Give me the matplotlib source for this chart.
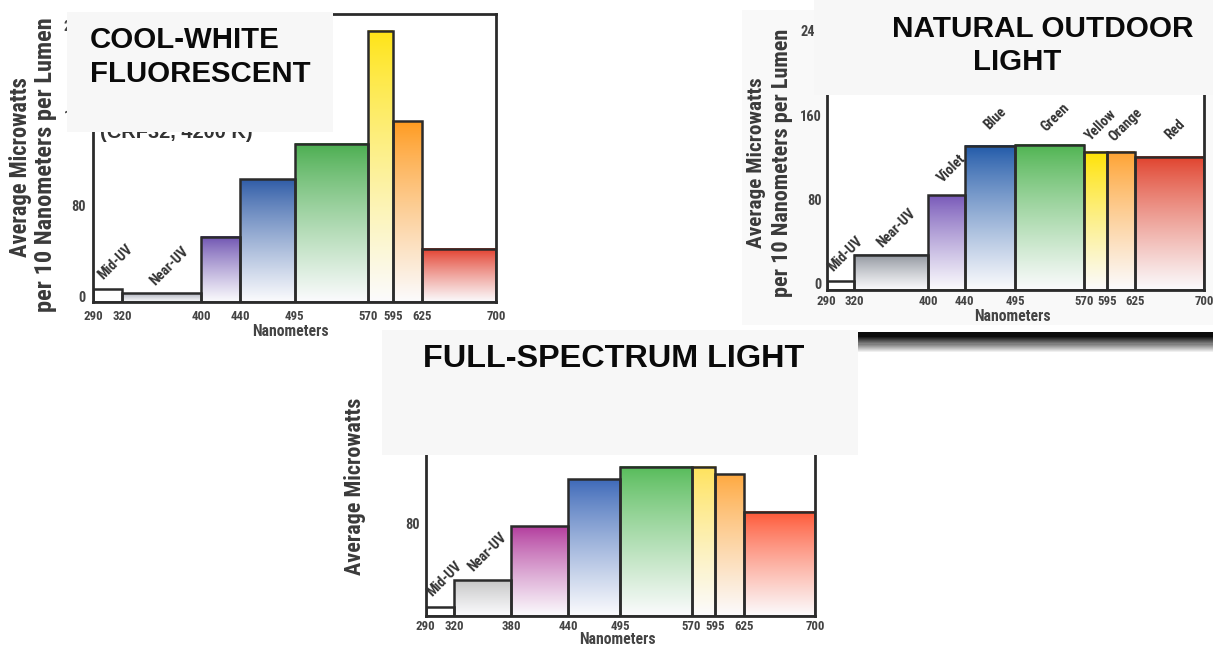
import numpy as np
import matplotlib
matplotlib.use("Agg")
import matplotlib.pyplot as plt
from matplotlib.patches import Rectangle
from matplotlib import font_manager as fm
from matplotlib.colors import to_rgb

W, H, DPI = 1213, 647, 100

# ---------------- data ----------------
bands = ["Mid-UV", "Near-UV", "Violet", "Blue", "Green", "Yellow", "Orange", "Red"]

edges_cw = [290, 320, 400, 440, 495, 570, 595, 625, 700]
cool_white = [6, 2.5, 52.5, 103.5, 135, 235, 155, 42]

edges_nat = [290, 320, 400, 440, 495, 570, 595, 625, 700]
natural = [2.8, 27.5, 84, 131, 132, 125, 125, 120.5]

edges_full = [290, 320, 380, 440, 495, 570, 595, 625, 700]
full_spectrum = [3.1, 27.7, 77.2, 120.9, 132.2, 132.2, 125.2, 90.7]

yticks_main = [0, 80, 160, 240]
yticks_full = [80, 160, 240]

colors_cw = ["#ffffff", "#a9acb8", "#6c50b0", "#2d5aa6", "#49ad4e", "#ffe414", "#ff9a1e", "#e23a28"]
colors_nat = ["#ffffff", "#8d929b", "#7656b8", "#1f58a8", "#4db34f", "#ffe200", "#ffa12e", "#e0402a"]
colors_full = ["#ffffff", "#c4c4c4", "#b23a9c", "#3c68b8", "#55bb58", "#ffe25a", "#ffa83e", "#ff5533"]

# ---------------- fonts ----------------
TTF = fm.fontManager.ttflist


def has_static_bold(name):
    return any(f.name == name and f.weight in (700, "bold") and "[" not in f.fname
               for f in TTF)


def pick(cands):
    for c in cands:
        if has_static_bold(c):
            return c
    return "DejaVu Sans"


NARROW = pick(["Liberation Sans Narrow", "Roboto Condensed", "Archivo Narrow",
               "PT Sans Narrow", "Fira Sans Condensed", "IBM Plex Sans Condensed",
               "Barlow Semi Condensed", "Saira SemiCondensed", "DejaVu Sans"])
BOLD = pick(["Liberation Sans", "Arimo", "DejaVu Sans"])
GRAY = "#3a3a3a"

fig = plt.figure(figsize=(W / DPI, H / DPI), dpi=DPI)
fig.patch.set_facecolor("white")
R = fig.canvas.get_renderer()


def fr(x0, y0, x1, y1):
    return [x0 / W, 1 - y1 / H, (x1 - x0) / W, (y1 - y0) / H]


def fx(x):
    return x / W


def fy(y):
    return 1 - y / H


def probe_size(s, target, family, weight="bold"):
    t = fig.text(0, 0, s, fontsize=10, family=family, fontweight=weight)
    w = t.get_window_extent(R).width
    t.remove()
    return 10 * target / w


def fit(t, target, vertical=False):
    bb = t.get_window_extent(R)
    cur = bb.height if vertical else bb.width
    t.set_fontsize(t.get_fontsize() * target / cur)
    return t


XT_FS = probe_size("290", 19.5, NARROW)
YT_FS = probe_size("80", 14.5, NARROW)
ROT_FS = probe_size("Near-UV", 48, NARROW)
NM_FS = probe_size("Nanometers", 76, NARROW)


def draw_chart(ax, edges, values, colors, ymin, ymax, yticks, n_labels,
               xpad, ypad, lab_off=(5, 27)):
    edges = np.asarray(edges, float)
    vals = np.asarray(values, float)
    left = edges[:-1]
    width = np.diff(edges)
    t = np.linspace(0, 1, 160)[:, None]
    bot = np.array(to_rgb("#fbfbfd"))
    for x0, w, v, c in zip(left, width, vals, colors):
        top = np.array(to_rgb(c))
        f = t ** 0.85
        grad = top * (1 - f) + bot * f
        if c == "#ffffff":
            grad = np.ones_like(grad)
        ax.imshow(grad[:, None, :], extent=[x0, x0 + w, ymin, v],
                  aspect="auto", interpolation="bilinear", zorder=1)
    ax.bar(left, vals - ymin, width=width, bottom=ymin, align="edge",
           fill=False, edgecolor="#2b2b2b", linewidth=1.8, zorder=2)
    ax.set_xlim(edges[0], edges[-1])
    ax.set_ylim(ymin, ymax)
    ax.set_xticks(edges)
    ax.set_xticklabels([f"{int(e)}" for e in edges])
    ax.set_yticks(yticks)
    ax.set_yticklabels([str(v) for v in yticks])
    ax.tick_params(axis="x", length=0, pad=xpad, labelsize=XT_FS, labelcolor="#444444")
    ax.tick_params(axis="y", length=0, pad=ypad, labelsize=YT_FS, labelcolor="#444444")
    for lab in ax.get_xticklabels() + ax.get_yticklabels():
        lab.set_fontfamily(NARROW)
        lab.set_fontweight("bold")
    for sp in ax.spines.values():
        sp.set_linewidth(2.0)
        sp.set_color("#2b2b2b")
    for i in range(n_labels):
        cx = left[i] + width[i] / 2
        ax.annotate(bands[i], xy=(cx, vals[i]), xytext=lab_off,
                    textcoords="offset pixels", rotation=45, ha="center",
                    va="center", fontsize=ROT_FS, fontweight="bold",
                    family=NARROW, color="#333333", zorder=3,
                    annotation_clip=False)


# ---------- chart 2 panel (natural outdoor light) ----------
fig.add_artist(Rectangle((fx(741.7), fy(325)), (1213 - 741.7) / W, (325 - 10) / H,
                         transform=fig.transFigure, facecolor="#f9f9f9",
                         edgecolor="none", zorder=-2))

# shadow strip under chart 2 panel
ax_sh = fig.add_axes(fr(800, 332, 1213, 353))
prof = np.concatenate([np.full(4, 0.05), np.linspace(0.05, 0.5, 8),
                       np.linspace(0.5, 1.0, 9)])
ax_sh.imshow(np.repeat(prof[:, None], 2, axis=1)[:, :, None].repeat(3, axis=2),
             aspect="auto", interpolation="bilinear", vmin=0, vmax=1)
ax_sh.axis("off")

# ---------- axes ----------
ax1 = fig.add_axes(fr(93, 14, 496, 302))
draw_chart(ax1, edges_cw, cool_white, colors_cw, -5.3, 250, yticks_main, 2,
           xpad=5.5, ypad=5.5, lab_off=(8, 27))

ax2 = fig.add_axes(fr(826.7, 20, 1204, 290))
draw_chart(ax2, edges_nat, natural, colors_nat, -5.7, 250, yticks_main, 8,
           xpad=3.5, ypad=3.5, lab_off=(5, 27))

ax3 = fig.add_axes(fr(425.7, 350, 815, 616))
draw_chart(ax3, edges_full, full_spectrum, colors_full, -5.5, 240, yticks_full, 2,
           xpad=3, ypad=4.5, lab_off=(5, 28))

# ---------- axis labels ----------
for (x, y, va) in [(290, 331, "center"), (1012, 317, "center"), (617, 646.5, "bottom")]:
    fig.text(fx(x), fy(y), "Nanometers", ha="center", va=va,
             fontsize=NM_FS, fontweight="bold", family=NARROW, color="#444444")

YL = dict(rotation=90, ha="center", va="center", fontsize=16,
          fontweight="bold", family=NARROW, color=GRAY)
fit(fig.text(fx(21), fy(167.5), "Average Microwatts", **YL), 181, vertical=True)
fit(fig.text(fx(46), fy(165), "per 10 Nanometers per Lumen", **YL), 294, vertical=True)
fit(fig.text(fx(756.7), fy(162.5), "Average Microwatts", **YL), 171, vertical=True)
fit(fig.text(fx(781.7), fy(162.5), "per 10 Nanometers per Lumen", **YL), 269, vertical=True)
fit(fig.text(fx(355), fy(486), "Average Microwatts", **YL), 178, vertical=True)

# partially hidden subtitle of the cool-white chart
fit(fig.text(fx(100), fy(138.5), "(CRF32, 4200 K)", ha="left", va="baseline",
             fontsize=13.5, fontweight="bold", family=BOLD, color="#333333",
             zorder=3), 152)

# ---------- title boxes ----------
BOX = "#f7f7f7"
for (x0, y0, x1, y1) in [(66.5, 11.5, 333.3, 131.5), (813.5, 0, 1213, 95),
                         (381.7, 330, 858.3, 455)]:
    fig.add_artist(Rectangle((fx(x0), fy(y1)), (x1 - x0) / W, (y1 - y0) / H,
                             transform=fig.transFigure, facecolor=BOX,
                             edgecolor="none", zorder=5))

TK = dict(fontweight="bold", family=BOLD, color="#0a0a0a", zorder=6,
          va="baseline", ha="left", fontsize=20.5)
fit(fig.text(fx(90), fy(48), "COOL-WHITE", **TK), 189)
fit(fig.text(fx(90), fy(81.7), "FLUORESCENT", **TK), 220)
fit(fig.text(fx(891.7), fy(36.7), "NATURAL OUTDOOR", **TK), 301)
fit(fig.text(fx(973.3), fy(70), "LIGHT", **TK), 88)
fit(fig.text(fx(423.3), fy(367.3), "FULL-SPECTRUM LIGHT", **TK), 381)

fig.savefig("out.png", dpi=DPI, facecolor="white")
